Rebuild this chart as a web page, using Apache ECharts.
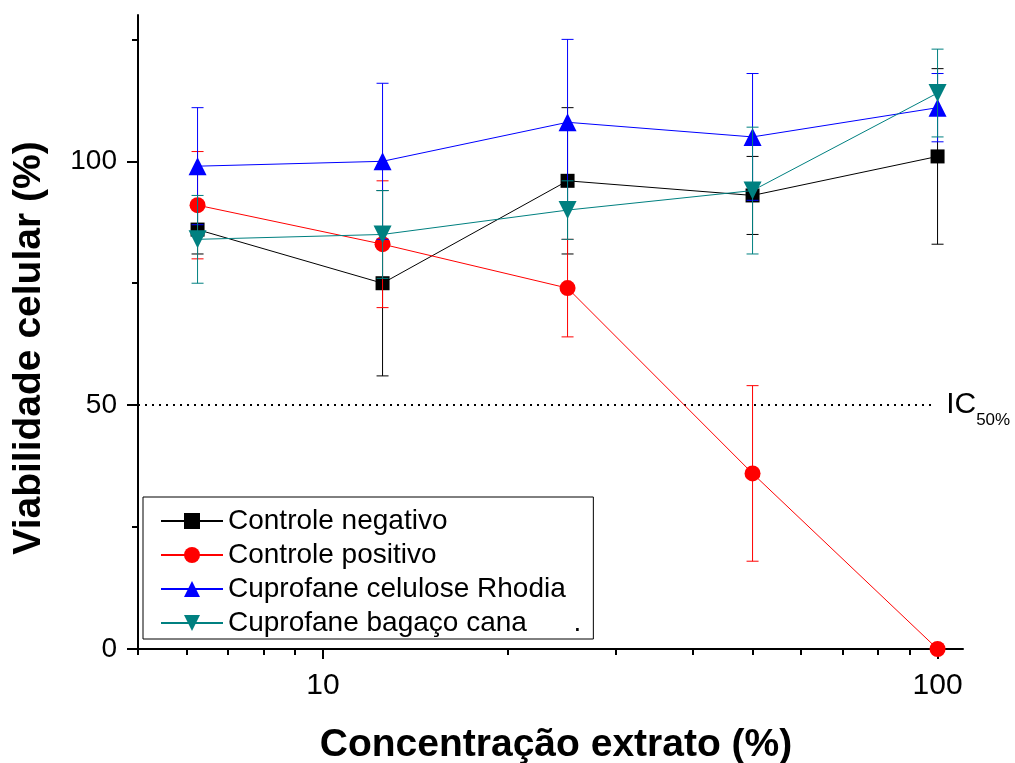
<!DOCTYPE html>
<html>
<head>
<meta charset="utf-8">
<script src="https://cdn.jsdelivr.net/npm/echarts@6/dist/echarts.min.js"></script>
<style>html,body{margin:0;padding:0;background:#fff}#c{width:1015px;height:763px}</style>
</head>
<body>
<div id="c"></div>
<script>
// ---- data ----
const concentrations = [6.25, 12.5, 25, 50, 100];
const seriesNames = ['Controle negativo', 'Controle positivo', 'Cuprofane celulose Rhodia', 'Cuprofane bagaço cana'];
const negMean = [86, 75, 96, 93, 101];
const negErr = [5, 19, 15, 8, 18];
const posMean = [91, 83, 74, 36, 0];
const posErr = [11, 13, 10, 18, 0];
const rhodiaMean = [99, 100, 108, 105, 111];
const rhodiaErr = [12, 16, 17, 13, 7];
const bagacoMean = [84, 85, 90, 94, 114];
const bagacoErr = [9, 9, 6, 13, 9];
const xMajorTicks = [10, 100];
const xMinorTicks = [5, 6, 7, 8, 9, 20, 30, 40, 50, 60, 70, 80, 90];
const yMajorTicks = [0, 50, 100];
const yMinorTicks = [25, 75, 125];
const icValue = 50;
const icRange = [5, 98];

const FONT = 'Liberation Sans, Arial, sans-serif';
const colors = ['#000000', '#ff0000', '#0000ff', '#008080'];
const symbols = ['rect', 'circle', 'triangle', 'triangle'];
const symbolSizes = [14, 16, 18, 18];
const rotates = [0, 0, 0, 180];
const means = [negMean, posMean, rhodiaMean, bagacoMean];
const errs = [negErr, posErr, rhodiaErr, bagacoErr];

function errRender(color) {
  return function (params, api) {
    const x = api.value(0), lo = api.value(1), hi = api.value(2);
    if (hi === lo) return null;
    const a = api.coord([x, hi]);
    const b = api.coord([x, lo]);
    const w = 6;
    const st = { stroke: color, lineWidth: 1 };
    return {
      type: 'group',
      children: [
        { type: 'line', shape: { x1: a[0], y1: a[1], x2: b[0], y2: b[1] }, style: st },
        { type: 'line', shape: { x1: a[0] - w, y1: a[1], x2: a[0] + w, y2: a[1] }, style: st },
        { type: 'line', shape: { x1: b[0] - w, y1: b[1], x2: b[0] + w, y2: b[1] }, style: st }
      ]
    };
  };
}

const series = [];
for (let i = 0; i < 4; i++) {
  series.push({
    type: 'custom',
    name: seriesNames[i] + ' err',
    renderItem: errRender(colors[i]),
    data: concentrations.map((c, k) => [c, means[i][k] - errs[i][k], means[i][k] + errs[i][k]]),
    encode: { x: 0, y: [1, 2] },
    z: 2 + i * 2,
    silent: true
  });
}
for (let i = 0; i < 4; i++) {
  const s = {
    type: 'line',
    name: seriesNames[i],
    data: concentrations.map((c, k) => [c, means[i][k]]),
    symbol: symbols[i],
    symbolSize: symbolSizes[i],
    symbolRotate: rotates[i],
    showAllSymbol: true,
    color: colors[i],
    lineStyle: { color: colors[i], width: 1 },
    itemStyle: { color: colors[i] },
    z: 3 + i * 2,
    animation: false
  };
  if (i === 0) {
    s.markLine = {
      silent: true,
      symbol: ['none', 'none'],
      lineStyle: { color: '#000', type: [2, 5], width: 2 },
      label: {
        show: true,
        position: 'end',
        distance: 14,
        formatter: '{a|IC}{b|50%}',
        rich: {
          a: { fontSize: 30, fontFamily: FONT, color: '#000', lineHeight: 30 },
          b: { fontSize: 17, fontFamily: FONT, color: '#000', lineHeight: 17, padding: [30, 0, 0, 0] }
        }
      },
      data: [[{ coord: [icRange[0], icValue] }, { coord: [icRange[1], icValue] }]]
    };
  }
  series.push(s);
}

const chart = echarts.init(document.getElementById('c'), null, { renderer: 'canvas' });
chart.setOption({
  animation: false,
  backgroundColor: '#fff',
  grid: { left: 138, right: 52, top: 15, bottom: 114, containLabel: false },
  xAxis: [{
    type: 'log', logBase: 10, min: 5, max: 110,
    axisLine: { show: true, onZero: false, lineStyle: { color: '#000', width: 2 } },
    axisTick: { show: true, customValues: xMajorTicks, length: 10, lineStyle: { color: '#000', width: 2 } },
    axisLabel: { customValues: xMajorTicks, fontSize: 30, fontFamily: FONT, color: '#000', margin: 22 },
    splitLine: { show: false }
  }, {
    type: 'log', logBase: 10, min: 5, max: 110, position: 'bottom',
    axisLine: { show: false },
    axisTick: { show: true, customValues: xMinorTicks, length: 6, lineStyle: { color: '#000', width: 2 } },
    axisLabel: { show: false },
    splitLine: { show: false }
  }],
  yAxis: [{
    type: 'value', min: 0, max: 130,
    axisLine: { show: true, lineStyle: { color: '#000', width: 2 } },
    axisTick: { show: true, customValues: yMajorTicks, length: 11, lineStyle: { color: '#000', width: 2 } },
    axisLabel: { customValues: yMajorTicks, fontSize: 28, fontFamily: FONT, color: '#000', margin: 21 },
    splitLine: { show: false }
  }, {
    type: 'value', min: 0, max: 130, position: 'left',
    axisLine: { show: false },
    axisTick: { show: true, customValues: yMinorTicks, length: 6, lineStyle: { color: '#000', width: 2 } },
    axisLabel: { show: false },
    splitLine: { show: false }
  }],
  legend: {
    data: seriesNames,
    orient: 'vertical',
    left: 143, top: 497,
    itemWidth: 62, itemHeight: 20, itemGap: 6,
    padding: [10, 12, 2, 17],
    borderColor: '#000', borderWidth: 1,
    backgroundColor: '#fff',
    textStyle: { fontSize: 28, fontFamily: FONT, color: '#000', lineHeight: 28 },
    formatter: function (name) { return name === seriesNames[3] ? name + '      .' : name; },
    selectedMode: false
  },
  graphic: [
    { type: 'text', x: 29, y: 348, rotation: Math.PI / 2,
      style: { text: 'Viabilidade celular (%)', fontSize: 39, fontWeight: 'bold', fontFamily: FONT, fill: '#000', align: 'center', verticalAlign: 'middle' } },
    { type: 'text', x: 556, y: 745,
      style: { text: 'Concentração extrato (%)', fontSize: 39, fontWeight: 'bold', fontFamily: FONT, fill: '#000', align: 'center', verticalAlign: 'middle' } }
  ],
  series: series
});
</script>
</body>
</html>
